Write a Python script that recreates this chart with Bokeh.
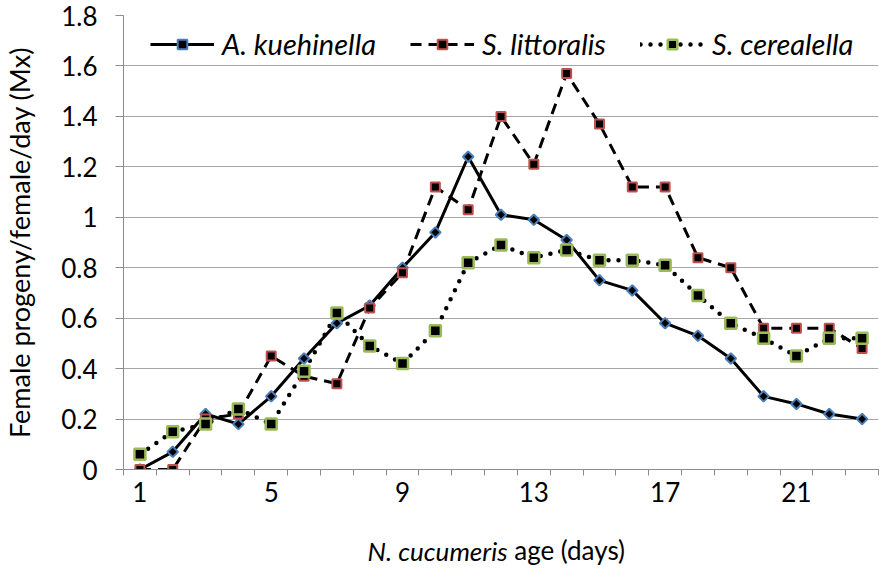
import math
from bokeh.plotting import figure
from bokeh.models import FixedTicker, CustomJSTickFormatter, Label, Range1d
from bokeh.embed import file_html
from bokeh.resources import INLINE

# ---- data ----
days = list(range(1, 24))
tick_days = [1, 5, 9, 13, 17, 21]
y_ticks = [0, 0.2, 0.4, 0.6, 0.8, 1.0, 1.2, 1.4, 1.6, 1.8]

a_kuehinella = [0.00, 0.07, 0.22, 0.18, 0.29, 0.44, 0.58, 0.65, 0.80, 0.94, 1.24, 1.01,
                0.99, 0.91, 0.75, 0.71, 0.58, 0.53, 0.44, 0.29, 0.26, 0.22, 0.20]
s_littoralis = [0.00, 0.00, 0.20, 0.22, 0.45, 0.37, 0.34, 0.64, 0.78, 1.12, 1.03, 1.40,
                1.21, 1.57, 1.37, 1.12, 1.12, 0.84, 0.80, 0.56, 0.56, 0.56, 0.48]
s_cerealella = [0.06, 0.15, 0.18, 0.24, 0.18, 0.39, 0.62, 0.49, 0.42, 0.55, 0.82, 0.89,
                0.84, 0.87, 0.83, 0.83, 0.81, 0.69, 0.58, 0.52, 0.45, 0.52, 0.52]

names = ["A. kuehinella", "S. littoralis", "S. cerealella"]

FONT = "Lato"
GRID = "#a6a6a6"
AXIS = "#8c8c8c"

p = figure(width=880, height=568, output_backend="svg", toolbar_location=None,
           x_range=Range1d(0.5, 23.5), y_range=Range1d(0, 1.8),
           min_border_left=118, min_border_right=2, min_border_top=15, min_border_bottom=83)
p.outline_line_color = None
p.background_fill_color = "white"

# axes
p.xaxis.ticker = FixedTicker(ticks=tick_days, minor_ticks=[d - 0.5 for d in days] + [days[-1] + 0.5])
p.xaxis.major_tick_line_color = None
p.xaxis.major_tick_out = 6
p.xaxis.major_tick_in = 0
p.xaxis.minor_tick_line_color = AXIS
p.xaxis.minor_tick_out = 6
p.xaxis.minor_tick_in = 0
p.xaxis.minor_tick_line_width = 1
p.xaxis.axis_line_color = AXIS
p.xaxis.major_label_standoff = 6
p.xaxis.major_label_text_font = FONT
p.xaxis.major_label_text_font_size = "26px"
p.xaxis.major_label_text_color = "black"

p.yaxis.ticker = FixedTicker(ticks=y_ticks, minor_ticks=[])
p.yaxis.formatter = CustomJSTickFormatter(code="return String(Math.round(tick*10)/10);")
p.yaxis.major_tick_out = 8
p.yaxis.major_tick_in = 0
p.yaxis.major_tick_line_color = AXIS
p.yaxis.axis_line_color = AXIS
p.yaxis.major_label_standoff = 18
p.yaxis.major_label_text_font = FONT
p.yaxis.major_label_text_font_size = "26px"
p.yaxis.major_label_text_color = "black"
p.yaxis.axis_label = "Female progeny/female/day (Mx)"
p.yaxis.axis_label_text_font = FONT
p.yaxis.axis_label_text_font_style = "normal"
p.yaxis.axis_label_text_font_size = "27px"
p.yaxis.axis_label_standoff = 22
p.yaxis.axis_label_text_color = "black"

p.xgrid.grid_line_color = None
p.ygrid.grid_line_color = GRID
p.ygrid.grid_line_width = 1.2

# series
p.line(days, a_kuehinella, line_color="black", line_width=3, legend_label=names[0])
p.line(days, s_littoralis, line_color="black", line_width=3, line_dash="11 7",
       legend_label=names[1])
p.line(days, s_cerealella, line_color="black", line_width=4.5, line_dash="0 10",
       line_cap="round", legend_label=names[2])

p.scatter(days, a_kuehinella, marker="square", angle=math.pi / 4, size=7.5,
          fill_color="black", line_color="#4a7ebb", line_width=2, legend_label=names[0])
p.scatter(days, s_littoralis, marker="square", size=9,
          fill_color="black", line_color="#c0504d", line_width=2, legend_label=names[1])
p.scatter(days, s_cerealella, marker="square", size=11,
          fill_color="black", line_color="#9bbb59", line_width=2.5, legend_label=names[2])

# legend
lg = p.legend[0]
lg.orientation = "horizontal"
lg.location = (27, 408)
lg.border_line_color = None
lg.background_fill_alpha = 0
lg.padding = 0
lg.margin = 0
lg.spacing = 34
lg.glyph_width = 64
lg.glyph_height = 24
lg.label_standoff = 8
lg.label_text_font = FONT
lg.label_text_font_style = "italic"
lg.label_text_font_size = "29px"
lg.label_text_color = "black"

# x axis title (italic species + normal text), placed in panels below the axis
split_x = 12.2
p.add_layout(Label(x=split_x, y=-14, x_units="data", y_units="screen", text="N. cucumeris",
                   text_font=FONT, text_font_style="italic", text_font_size="26px",
                   text_align="right", text_baseline="middle", text_color="black"), "below")
p.add_layout(Label(x=split_x, y=19, x_units="data", y_units="screen", text="\u00a0age (days)",
                   text_font=FONT, text_font_style="normal", text_font_size="26px",
                   text_align="left", text_baseline="middle", text_color="black"), "below")

open("out.html", "w").write(file_html(p, INLINE))
